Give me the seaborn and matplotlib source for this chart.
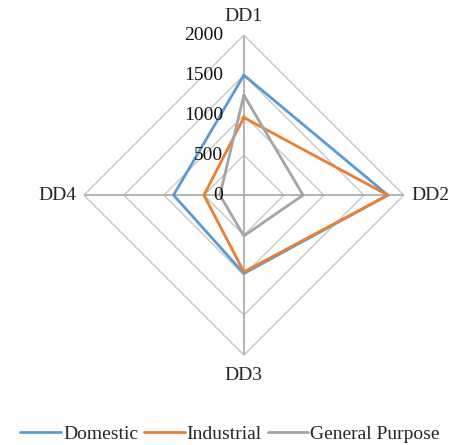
import numpy as np
import pandas as pd
import matplotlib
matplotlib.use("Agg")
import matplotlib.pyplot as plt
import seaborn as sns

categories = ["DD1", "DD2", "DD3", "DD4"]
domestic = [1500, 1800, 980, 880]
industrial = [970, 1800, 960, 500]
general = [1250, 740, 510, 300]
levels = [0, 500, 1000, 1500, 2000]

sns.set_style("white")
plt.rcParams["font.family"] = ["Liberation Serif", "DejaVu Serif"]

colors = {"Domestic": "#5B9BD5", "Industrial": "#ED7D31", "General Purpose": "#A5A5A5"}

# long table, first point repeated to close each polygon
angles = np.linspace(0, 2 * np.pi, len(categories), endpoint=False)
rows = []
for name, vals in [("Domestic", domestic), ("Industrial", industrial), ("General Purpose", general)]:
    for i in range(len(categories) + 1):
        k = i % len(categories)
        rows.append({"series": name, "theta": angles[k] if i < len(categories) else 2 * np.pi, "value": vals[k]})
df = pd.DataFrame(rows)

fig = plt.figure(figsize=(4.51, 4.45), dpi=100)
ax = fig.add_axes([0.186, 0.202, 0.7095, 0.719], projection="polar")
ax.set_theta_offset(np.pi / 2)
ax.set_theta_direction(-1)
ax.set_ylim(0, 2000)
ax.grid(False)
ax.spines["polar"].set_visible(False)
ax.set_xticks([])
ax.set_yticks([])

# diamond grid and spokes
closed = np.append(angles, angles[0])
for lv in levels[1:]:
    ax.plot(closed, [lv] * len(closed), color="#C8C8C8", lw=1.0, zorder=1)
for a in angles:
    ax.plot([a, a], [0, 2000], color="#A8A8A8", lw=1.2, zorder=1)

sns.lineplot(data=df, x="theta", y="value", hue="series", sort=False, estimator=None,
             units="series", palette=colors, lw=2, ax=ax, legend=False, zorder=3)
ax.set_xlabel("")
ax.set_ylabel("")

# radial value labels
for lv in levels:
    ax.annotate(str(lv), xy=(0, lv), xytext=(-21, 0), textcoords="offset pixels",
                ha="right", va="center", fontsize=14, color="#111111")

# category labels
ax.text(angles[0], 2230, categories[0], ha="center", va="center", fontsize=14)
ax.text(angles[1], 2100, categories[1], ha="left", va="center", fontsize=14)
ax.text(angles[2], 2250, categories[2], ha="center", va="center", fontsize=14)
ax.text(angles[3], 2100, categories[3], ha="right", va="center", fontsize=14)

handles = [plt.Line2D([], [], color=c, lw=2) for c in colors.values()]
fig.legend(handles, list(colors.keys()), loc="lower center", bbox_to_anchor=(0.51, -0.035),
           ncol=3, frameon=False, fontsize=14, handlelength=2.1, handletextpad=0.1,
           columnspacing=0.3)

fig.savefig("out.png", dpi=100)
